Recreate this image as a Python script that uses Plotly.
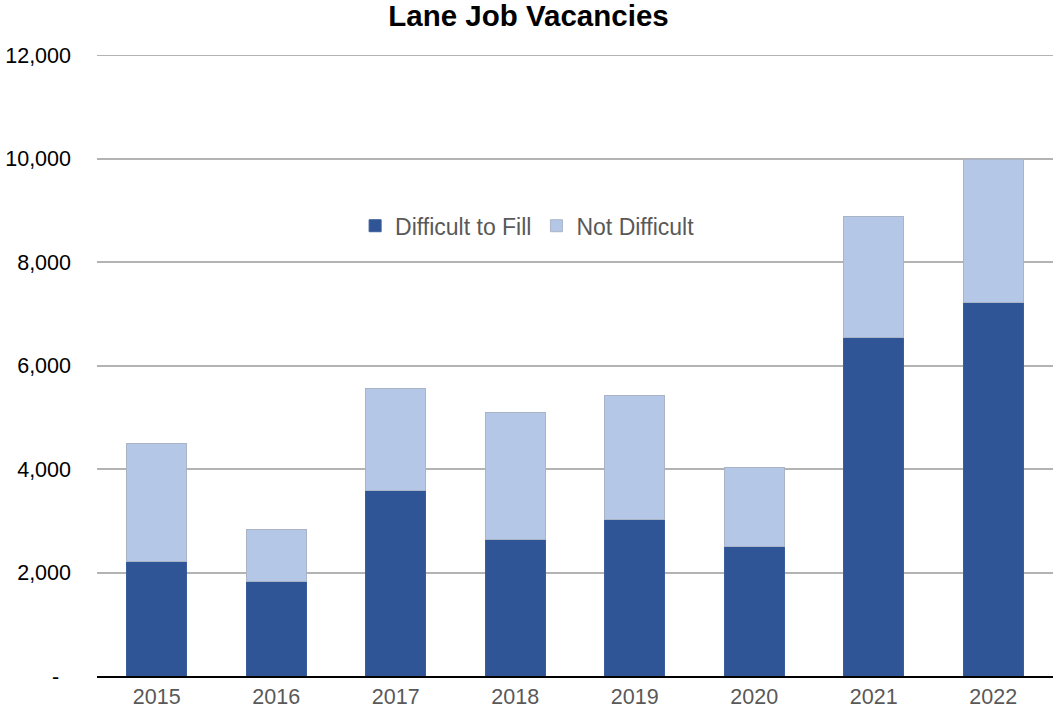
import plotly.graph_objects as go

years = ["2015", "2016", "2017", "2018", "2019", "2020", "2021", "2022"]
difficult = [2220, 1830, 3590, 2640, 3030, 2510, 6540, 7215]
not_difficult = [2275, 1000, 1965, 2450, 2390, 1520, 2330, 2765]
y_ticks = [0, 2000, 4000, 6000, 8000, 10000, 12000]
y_tick_labels = ["-\u00a0\u00a0", "2,000", "4,000", "6,000", "8,000", "10,000", "12,000"]

fig = go.Figure()
fig.add_trace(go.Bar(
    x=years, y=difficult, name="Difficult to Fill",
    marker=dict(color="#2F5597", line=dict(color="#3A5E9C", width=1)),
))
fig.add_trace(go.Bar(
    x=years, y=not_difficult, name="Not Difficult",
    marker=dict(color="#B4C7E7", line=dict(color="#A9B4C6", width=1)),
))

# top gridline (hidden by plotly at the axis end)
fig.add_shape(type="line", xref="paper", yref="y", x0=0, x1=1,
              y0=y_ticks[-1], y1=y_ticks[-1],
              line=dict(color="#B3B3B3", width=2), layer="below")

fig.update_layout(
    barmode="stack",
    bargap=0.5,
    width=1057, height=714,
    margin=dict(l=97, r=4, t=55, b=38),
    paper_bgcolor="white", plot_bgcolor="white",
    font=dict(family="Liberation Sans, Arial, sans-serif", size=21.5, color="#000000"),
    title=dict(text="<b>Lane Job Vacancies</b>", x=0.5, xanchor="center",
               y=0.978, yanchor="middle",
               font=dict(size=29.5, color="#000000")),
    legend=dict(orientation="h", x=0.27, xanchor="left", y=0.725, yanchor="middle",
                font=dict(size=23, color="#595959"), bgcolor="rgba(0,0,0,0)",
                traceorder="normal"),
    xaxis=dict(showline=True, linecolor="#000000", linewidth=2, ticks="",
               tickfont=dict(size=21.5, color="#595959"), showgrid=False),
    yaxis=dict(range=[0, 12000], tickvals=y_ticks, ticktext=y_tick_labels,
               showgrid=True, gridcolor="#B3B3B3", gridwidth=2,
               zeroline=False, showline=False, ticks="",
               ticklabelstandoff=25,
               tickfont=dict(size=21.5, color="#000000")),
)

fig.write_html("out.html", config={"displayModeBar": False},
               post_script="document.body.style.margin='0';document.body.style.overflow='hidden';")
